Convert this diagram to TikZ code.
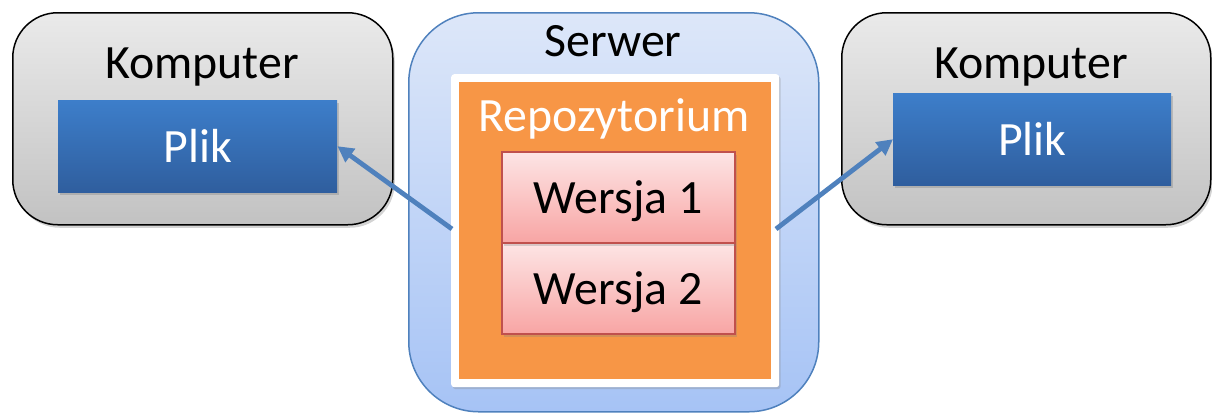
\documentclass[tikz,border=0pt]{standalone}
\usepackage{fontspec}
\setmainfont{Carlito}
\usetikzlibrary{shadows,arrows.meta}
\definecolor{arrowblue}{HTML}{4F81BD}
\definecolor{srvtop}{HTML}{DDE7F9}
\definecolor{srvbot}{HTML}{A6C3F5}
\definecolor{srvline}{HTML}{4F81BD}
\definecolor{graytop}{HTML}{EAEAEA}
\definecolor{graybot}{HTML}{C2C2C2}
\definecolor{pliktop}{HTML}{3D7ECA}
\definecolor{plikbot}{HTML}{2F5E9E}
\definecolor{orangefill}{HTML}{F79646}
\definecolor{pinktop}{HTML}{FDE5E5}
\definecolor{pinkbot}{HTML}{F8A5A4}
\definecolor{pinkline}{HTML}{C0504D}
\tikzset{
  x=1bp, y=-1bp,
  compbox/.style={draw=black, line width=1.5bp, rounded corners=45bp, top color=graytop, bottom color=graybot, anchor=north west, inner sep=0pt,
    drop shadow={opacity=0.35, shadow xshift=2bp, shadow yshift=-3bp}},
  plikbox/.style={draw=none, top color=pliktop, bottom color=plikbot, anchor=north west, inner sep=0pt,
    drop shadow={opacity=0.35, shadow xshift=2bp, shadow yshift=-3bp}},
  srvbox/.style={draw=srvline, line width=1.5bp, rounded corners=70bp, top color=srvtop, bottom color=srvbot, anchor=north west, inner sep=0pt},
  framebox/.style={draw=none, fill=white, rounded corners=3bp, anchor=north west, inner sep=0pt,
    drop shadow={opacity=0.3, shadow xshift=1.5bp, shadow yshift=-2bp}},
  repobox/.style={draw=none, fill=orangefill, anchor=north west, inner sep=0pt},
  verbox/.style={draw=pinkline, line width=1.5bp, top color=pinktop, bottom color=pinkbot, anchor=north west, inner sep=0pt,
    drop shadow={opacity=0.3, shadow xshift=2bp, shadow yshift=-3bp}},
  lbl/.style={font=\fontsize{48}{52}\selectfont, inner sep=0pt},
  conn/.style={draw=arrowblue, line width=4.8bp, -{Triangle[length=16bp,width=16bp]}}
}
\begin{document}
\begin{tikzpicture}
\useasboundingbox (0,0) rectangle (1212,413);
% left computer
\node[compbox, minimum width=380bp, minimum height=212bp] (compL) at (12,12) {};
\node[lbl, anchor=base] (compLt) at (202,78) {Komputer};
\node[plikbox, minimum width=279bp, minimum height=92bp] (plikL) at (58,100) {};
\node[lbl, text=white, anchor=base] (plikLt) at (plikL.center) [yshift=-16bp] {Plik};
% right computer
\node[compbox, minimum width=369bp, minimum height=212bp] (compR) at (841,12) {};
\node[lbl, anchor=base] (compRt) at (1031,78) {Komputer};
\node[plikbox, minimum width=278bp, minimum height=92bp] (plikR) at (893,93) {};
\node[lbl, text=white, anchor=base] (plikRt) at (plikR.center) [yshift=-16bp] {Plik};
% server
\node[srvbox, minimum width=410bp, minimum height=399bp] (srv) at (408,12) {};
\node[lbl, anchor=base] (srvt) at (613,56) {Serwer};
\node[framebox, minimum width=328bp, minimum height=313bp] (frame) at (451,74) {};
\node[repobox, minimum width=312bp, minimum height=297bp] (repo) at (459,82) {};
\node[lbl, text=white, anchor=base] (repot) at (614,131) {Repozytorium};
\node[verbox, minimum width=233bp, minimum height=91bp] (v2) at (501,242) {};
\node[verbox, minimum width=233bp, minimum height=91bp] (v1) at (501,151) {};
\node[lbl, anchor=base] (v1t) at (v1.center) [yshift=-16bp] {Wersja 1};
\node[lbl, anchor=base] (v2t) at (v2.center) [yshift=-16bp] {Wersja 2};
% connectors
\coordinate (sL) at (452,229);
\coordinate (sR) at (776,229);
\draw[conn] (sL) -- (plikL.east);
\draw[conn] (sR) -- (plikR.west);
\end{tikzpicture}
\end{document}
